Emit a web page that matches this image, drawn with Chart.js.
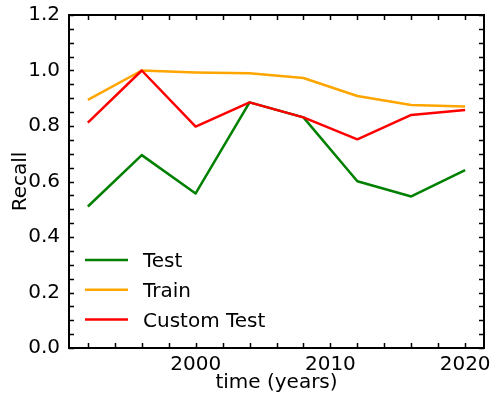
<!DOCTYPE html>
<html><head><meta charset="utf-8">
<script src="https://cdn.jsdelivr.net/npm/chart.js@4/dist/chart.umd.min.js"></script>
<style>html,body{margin:0;padding:0;background:#fff;}#wrap{width:493px;height:396px;}</style>
</head><body><div id="wrap"><canvas id="c" width="493" height="396"></canvas></div>
<script>
const years = [1992, 1996, 2000, 2004, 2008, 2012, 2016, 2020];
const testRecall = [0.51, 0.695, 0.557, 0.885, 0.831, 0.601, 0.546, 0.641];
const trainRecall = [0.894, 1.0, 0.993, 0.99, 0.973, 0.908, 0.876, 0.87];
const customTestRecall = [0.812, 1.0, 0.798, 0.885, 0.831, 0.752, 0.84, 0.858];
const xTickLabels = [2000, 2010, 2020];
const yTickLabels = [0.0, 0.2, 0.4, 0.6, 0.8, 1.0, 1.2];
const xMinorTicks = [1992, 1994, 1996, 1998, 2000, 2002, 2004, 2006, 2008, 2010, 2012, 2014, 2016, 2018, 2020];
const yMinorTicks = [0, 0.05, 0.1, 0.15, 0.2, 0.25, 0.3, 0.35, 0.4, 0.45, 0.5, 0.55, 0.6, 0.65, 0.7, 0.75, 0.8, 0.85, 0.9, 0.95, 1.0, 1.05, 1.1, 1.15, 1.2];
const seriesNames = ['Test', 'Train', 'Custom Test'];
const xTitle = 'time (years)';
const yTitle = 'Recall';

const FONT = 'DejaVu Sans';
const FS = 20;
const LW = 2.5;
const pts = arr => years.map((y, i) => ({x: y, y: arr[i]}));

const framePlugin = {
  id: 'frame',
  afterDatasetsDraw(chart) {
    const ctx = chart.ctx, a = chart.chartArea;
    const xs = chart.scales.x, ys = chart.scales.y;
    ctx.save();
    ctx.strokeStyle = '#000';
    ctx.lineWidth = 1.5;
    const TL = 5;
    ctx.beginPath();
    xMinorTicks.forEach(v => {
      const px = Math.round(xs.getPixelForValue(v)) + 0.5;
      ctx.moveTo(px, a.bottom); ctx.lineTo(px, a.bottom - TL);
      ctx.moveTo(px, a.top); ctx.lineTo(px, a.top + TL);
    });
    yMinorTicks.forEach(v => {
      const py = Math.round(ys.getPixelForValue(v)) + 0.5;
      ctx.moveTo(a.left, py); ctx.lineTo(a.left + TL, py);
      ctx.moveTo(a.right, py); ctx.lineTo(a.right - TL, py);
    });
    ctx.stroke();
    ctx.lineWidth = 2;
    ctx.strokeRect(a.left, a.top, a.right - a.left, a.bottom - a.top);
    // legend
    const lx0 = 85, lx1 = 128, tx = 143, ly0 = 260, dy = 29.7;
    ctx.font = FS + 'px "' + FONT + '"';
    ctx.textBaseline = 'alphabetic';
    ctx.textAlign = 'left';
    chart.data.datasets.forEach((ds, i) => {
      const y = ly0 + i * dy;
      ctx.strokeStyle = ds.borderColor;
      ctx.lineWidth = LW;
      ctx.beginPath(); ctx.moveTo(lx0, y); ctx.lineTo(lx1, y); ctx.stroke();
      ctx.fillStyle = '#000';
      ctx.fillText(ds.label, tx, y + 0.3645 * FS);
    });
    ctx.restore();
  }
};

const noPad = s => { s.paddingTop = 0; s.paddingBottom = 0; s.paddingLeft = 0; s.paddingRight = 0; };

new Chart(document.getElementById('c'), {
  type: 'line',
  data: {
    datasets: [
      {label: seriesNames[0], data: pts(testRecall), borderColor: '#008000', order: 3},
      {label: seriesNames[1], data: pts(trainRecall), borderColor: '#ffa500', order: 2},
      {label: seriesNames[2], data: pts(customTestRecall), borderColor: '#ff0000', order: 1}
    ]
  },
  options: {
    responsive: false,
    animation: false,
    devicePixelRatio: 1,
    layout: {padding: {left: 0, top: 15, right: 9, bottom: 0}},
    elements: {
      line: {borderWidth: LW, tension: 0, borderJoinStyle: 'round', fill: false},
      point: {radius: 0, hoverRadius: 0}
    },
    plugins: {legend: {display: false}, tooltip: {enabled: false}},
    scales: {
      x: {
        type: 'linear', min: 1990.6, max: 2021.4,
        afterBuildTicks: s => { s.ticks = xTickLabels.map(v => ({value: v})); },
        afterFit: s => { s.height = 48; noPad(s); },
        grid: {display: false, drawTicks: false},
        border: {display: false},
        ticks: {padding: 5, color: '#000', font: {family: FONT, size: FS}, maxRotation: 0, autoSkip: false,
          callback: v => String(v)},
        title: {display: true, text: xTitle, color: '#000', font: {family: FONT, size: FS}, padding: {top: 0, bottom: 1}}
      },
      y: {
        type: 'linear', min: 0, max: 1.2,
        afterBuildTicks: s => { s.ticks = yTickLabels.map(v => ({value: v})); },
        afterFit: s => { s.width = 69; noPad(s); },
        grid: {display: false, drawTicks: false},
        border: {display: false},
        ticks: {padding: 9, color: '#000', font: {family: FONT, size: FS}, autoSkip: false,
          callback: v => Number(v).toFixed(1)},
        title: {display: true, text: yTitle, color: '#000', font: {family: FONT, size: FS}, padding: {top: 9, bottom: 0}}
      }
    }
  },
  plugins: [framePlugin]
});
</script></body></html>
